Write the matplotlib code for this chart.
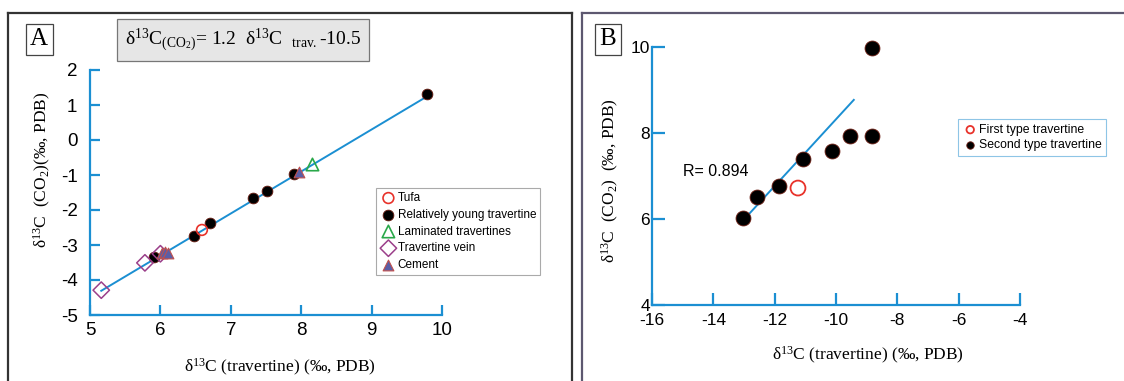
import matplotlib
matplotlib.use('Agg')
import matplotlib.pyplot as plt
import numpy as np
from matplotlib.lines import Line2D

plt.rcParams['mathtext.default'] = 'regular'
plt.rcParams['axes.unicode_minus'] = False

# ---- data, panel A
tufa_x = [6.59]
tufa_y = [-2.57]
young_x = [9.79, 7.90, 7.52, 7.32, 6.71, 6.48, 5.91]
young_y = [1.31, -0.97, -1.46, -1.66, -2.37, -2.74, -3.34]
lam_x = [8.16]
lam_y = [-0.70]
vein_x = [5.16, 5.78, 6.00]
vein_y = [-4.29, -3.51, -3.25]
cement_x = [6.02, 6.07, 6.11, 7.97]
cement_y = [-3.24, -3.20, -3.24, -0.90]
fit_a_slope = 1.2
fit_a_icpt = -10.5
fit_a_range = [5.16, 9.79]

# ---- data, panel B
first_x = [-11.24]
first_y = [6.72]
second_x = [-13.04, -12.58, -11.86, -11.08, -10.14, -9.55, -8.83, -8.83]
second_y = [6.02, 6.51, 6.77, 7.40, 7.58, 7.92, 7.92, 9.98]
fit_b_x = [-12.87, -9.42]
fit_b_y = [6.09, 8.77]

W, H = 1124, 381
BLUE = '#1b8fd2'


def rect(l, t, r, b):
    return [l / W, 1 - b / H, (r - l) / W, (b - t) / H]


def style_axes(ax, tlen, ypad, xpad, size):
    for s in ['top', 'right']:
        ax.spines[s].set_visible(False)
    for s in ['left', 'bottom']:
        ax.spines[s].set_color(BLUE)
        ax.spines[s].set_linewidth(1.6)
    ax.tick_params(direction='in', length=tlen, width=1.6, color=BLUE,
                   labelsize=size, labelcolor='black')
    ax.tick_params(axis='y', pad=ypad)
    ax.tick_params(axis='x', pad=xpad)
    for lab in ax.get_xticklabels() + ax.get_yticklabels():
        lab.set_family('Liberation Sans')
    ax.patch.set_alpha(0)


fig = plt.figure(figsize=(W / 100, H / 100), dpi=100)

# panel frames
fc = fig.transFigure
for (x0, y0, x1, y1, c) in [
        (8, 13, 572, 13, '#333333'), (8, 13, 8, 400, '#333333'), (572, 13, 572, 400, '#333333'),
        (582, 13, 1130, 13, '#5d5870'), (582, 13, 582, 400, '#5d5870')]:
    fig.add_artist(Line2D([x0 / W, x1 / W], [1 - y0 / H, 1 - y1 / H], color=c, lw=1.6, transform=fc))

# ---------------- panel A
axA = fig.add_axes(rect(90, 70, 442, 315))
axA.set_xlim(5, 10)
axA.set_ylim(-5, 2)
axA.set_xticks([5, 6, 7, 8, 9, 10])
axA.set_yticks([-5, -4, -3, -2, -1, 0, 1, 2])
style_axes(axA, 7.5, 9, 5, 13.5)

xs = np.array(fit_a_range)
axA.plot(xs, fit_a_slope * xs + fit_a_icpt, color=BLUE, lw=1.4, zorder=2)
axA.scatter(young_x, young_y, s=60, c='black', edgecolors='#6b1d12', linewidths=0.6,
            label='Relatively young travertine', zorder=3, clip_on=False)
axA.scatter(tufa_x, tufa_y, s=60, facecolors='none', edgecolors='#e8322a', linewidths=1.2,
            label='Tufa', zorder=4)
axA.scatter(lam_x, lam_y, s=80, marker='^', facecolors='none', edgecolors='#2aa84a',
            linewidths=1.2, label='Laminated travertines', zorder=4)
axA.scatter(vein_x, vein_y, s=70, marker='D', facecolors='none', edgecolors='#9b3f8a',
            linewidths=1.1, label='Travertine vein', zorder=4)
axA.scatter(cement_x, cement_y, s=60, marker='^', c='#5b5ea6', edgecolors='#c0504d',
            linewidths=0.8, label='Cement', zorder=5)

h, l = axA.get_legend_handles_labels()
order = ['Tufa', 'Relatively young travertine', 'Laminated travertines', 'Travertine vein', 'Cement']
hh = [h[l.index(o)] for o in order]
legA = axA.legend(hh, order, loc='upper left', bbox_to_anchor=(376 / W, 1 - 188 / H),
                  bbox_transform=fc, fancybox=False, edgecolor='#aaaaaa', framealpha=1,
                  prop={'family': 'Liberation Sans', 'size': 8.5}, handletextpad=0.1,
                  borderpad=0.35, labelspacing=0.4, handlelength=1.4, borderaxespad=0)
legA.get_frame().set_linewidth(0.8)

fig.text(39 / W, 1 - 39 / H, 'A', family='Liberation Serif', fontsize=18, ha='center', va='center',
         bbox=dict(boxstyle='square,pad=0.18', fc='white', ec='#444444', lw=0.9))
fig.text(243 / W, 1 - 40 / H, r'$\delta^{13}$C$_{(CO_2)}$= 1.2  $\delta^{13}$C  $_{trav.}$-10.5',
         family='Liberation Serif', fontsize=14, ha='center', va='center',
         bbox=dict(boxstyle='square,pad=0.4', fc='#e6e6e6', ec='#777777', lw=0.9))
fig.text(42 / W, 1 - 170 / H, r'$\delta^{13}$C  (CO$_2$)(‰, PDB)', family='Liberation Serif',
         fontsize=12.5, rotation=90, ha='center', va='center')
fig.text(280 / W, 1 - 367 / H, r'$\delta^{13}$C (travertine) (‰, PDB)', family='Liberation Serif',
         fontsize=12.5, ha='center', va='center')

# ---------------- panel B
axB = fig.add_axes(rect(652, 47, 1020, 305))
axB.set_xlim(-16, -4)
axB.set_ylim(4, 10)
axB.set_xticks([-16, -14, -12, -10, -8, -6, -4])
axB.set_yticks([4, 6, 8, 10])
style_axes(axB, 9, 1.5, 5.5, 12.5)

axB.plot(fit_b_x, fit_b_y, color=BLUE, lw=1.4, zorder=2)
axB.scatter(first_x, first_y, s=115, facecolors='none', edgecolors='#e8322a', linewidths=1.3,
            label='First type travertine', zorder=4, clip_on=False)
axB.scatter(second_x, second_y, s=115, c='black', edgecolors='#6b1d12', linewidths=0.6,
            label='Second type travertine', zorder=3, clip_on=False)
legB = axB.legend(loc='upper left', bbox_to_anchor=(958 / W, 1 - 119 / H), bbox_transform=fc,
                  fancybox=False, edgecolor='#8ec5e6', framealpha=1, markerscale=0.5,
                  prop={'family': 'Liberation Sans', 'size': 8.8}, handletextpad=0.1,
                  borderpad=0.4, labelspacing=0.25, handlelength=1.2, borderaxespad=0)
legB.get_frame().set_linewidth(0.8)

axB.text(-15.0, 7.1, 'R= 0.894', family='Liberation Sans', fontsize=11.5, ha='left', va='center')

fig.text(608 / W, 1 - 39 / H, 'B', family='Liberation Serif', fontsize=18, ha='center', va='center',
         bbox=dict(boxstyle='square,pad=0.18', fc='white', ec='#444444', lw=0.9))
fig.text(610 / W, 1 - 181 / H, r'$\delta^{13}$C  (CO$_2$)  (‰, PDB)', family='Liberation Serif',
         fontsize=12.5, rotation=90, ha='center', va='center')
fig.text(868 / W, 1 - 355 / H, r'$\delta^{13}$C (travertine) (‰, PDB)', family='Liberation Serif',
         fontsize=12.5, ha='center', va='center')

plt.savefig('out.png', dpi=100)
